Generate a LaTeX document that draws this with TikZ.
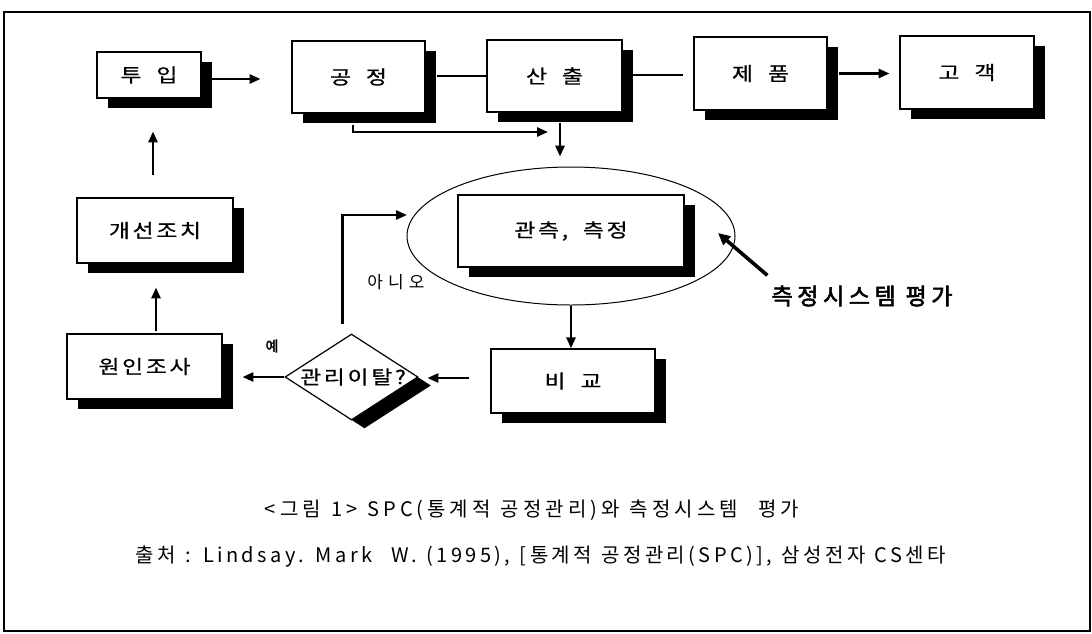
\documentclass[tikz,border=0pt]{standalone}
\usepackage{fontspec}
\setmainfont{Noto Sans CJK KR}
\newfontfamily\boxf[LetterSpace=12,WordSpace=1.9,FakeBold=0.6]{Noto Sans CJK KR}
\newfontfamily\capfa[LetterSpace=20,WordSpace=1.2]{Noto Sans CJK KR}
\newfontfamily\capfb[LetterSpace=17,WordSpace=1.2]{Noto Sans CJK KR}
\newfontfamily\lblf[LetterSpace=30]{Noto Sans CJK KR}
\newfontfamily\boldf[FakeBold=2.5,LetterSpace=20]{Noto Sans CJK KR}
\newcommand{\boxtxt}[1]{\scalebox{1.2}[1]{#1}}
\usetikzlibrary{arrows.meta,shapes.geometric,shadows}
\begin{document}
\begin{tikzpicture}[x=1pt,y=-1pt,
  sbox/.style={draw=black,line width=1.2pt,fill=white,rectangle,inner sep=0pt,
    drop shadow={shadow xshift=11pt,shadow yshift=-10pt,fill=black,opacity=1},
    font=\boxf\fontsize{19}{22}\selectfont},
  conn/.style={line width=2.6pt},
  arr/.style={line width=2.6pt,-{Triangle[length=11pt,width=9pt]}},
  capn/.style={inner sep=0pt},
  ]
\useasboundingbox (0,0) rectangle (1092,633);
\draw[line width=1.1pt] (4,12) rectangle (1090,631);
% ellipse
\node[draw,ellipse,line width=1pt,minimum width=328pt,minimum height=138pt,inner sep=0pt] (ell) at (571,236) {};
% boxes
\node[sbox,minimum width=104pt,minimum height=46pt] (tuip) at (149,75) {\boxtxt{투 입}};
\node[sbox,minimum width=133pt,minimum height=72pt] (gong) at (358.5,77) {\boxtxt{공 정}};
\node[sbox,minimum width=135pt,minimum height=72pt] (san) at (554.5,76) {\boxtxt{산 출}};
\node[sbox,minimum width=133pt,minimum height=73pt] (jep) at (760.5,73.5) {\boxtxt{제 품}};
\node[sbox,minimum width=134pt,minimum height=73pt] (gog) at (967,72.5) {\boxtxt{고 객}};
\node[sbox,minimum width=156pt,minimum height=65pt] (gae) at (155,230.5) {\boxtxt{개선조치}};
\node[sbox,minimum width=155pt,minimum height=65pt] (won) at (144.5,366.5) {\boxtxt{원인조사}};
\node[sbox,minimum width=226pt,minimum height=72pt] (gwan) at (571,231) {\boxtxt{관측, 측정}};
\node[sbox,minimum width=164pt,minimum height=64pt] (big) at (573,381) {\boxtxt{비 교}};
% diamond
\node[draw,diamond,line width=1.2pt,fill=white,inner sep=0pt,minimum width=133pt,minimum height=86pt,
  drop shadow={shadow xshift=13pt,shadow yshift=-8.5pt,fill=black,opacity=1}] (dia) at (351.5,377) {};
\node[font=\boxf\fontsize{19}{22}\selectfont,inner sep=0pt] (diat) at (353,377) {\boxtxt{관리이탈?}};
% connectors top row
\draw[arr] ([xshift=10pt,yshift=-4pt]tuip.east) -- ++(49,0);
\draw[conn] ([xshift=11pt,yshift=1pt]gong.east) -- ++(50,0);
\draw[conn] ([xshift=10pt,yshift=1pt]san.east) -- ++(50,0);
\draw[arr] ([xshift=11pt]jep.east) -- ++(51,0);
\coordinate (gtip) at (548,132);
\draw[arr] ([xshift=-5.5pt,yshift=-11pt]gong.south) |- (gtip);
\draw[arr] ([xshift=5.5pt,yshift=-10pt]san.south) -- ++(0,34);
% lower connectors
\draw[arr] (ell.south) -- (ell.south |- big.north);
\draw[arr] ([xshift=-21pt,yshift=3pt]big.west) -- ++(-42,0);
\draw[arr] (dia.west) -- ++(-42,0);
\coordinate (ltip) at (407,215);
\draw[arr] ([xshift=-9pt,yshift=9pt]dia.north) |- (ltip);
\draw[arr] ([xshift=-2pt,yshift=22pt]gae.north) -- ++(0,-44);
\draw[arr] ([xshift=11.5pt,yshift=2pt]won.north) -- ++(0,-44);
% labels
\node[font=\lblf\fontsize{17}{19}\selectfont,inner sep=0pt] (no) at (396,282) {아니오};
\node[font=\boldf\fontsize{14}{16}\selectfont,inner sep=0pt] (yes) at (272,346) {예};
\node[font=\boldf\fontsize{23}{26}\selectfont,inner sep=0pt] (eval) at (862,296) {측정시스템 평가};
\coordinate (etip) at (718,233);
\draw[line width=3.6pt,-{Triangle[length=12pt,width=11pt]}] ([xshift=-4pt,yshift=10pt]eval.north west) -- (etip);
% captions
\node[capn,font=\capfa\fontsize{20}{22}\selectfont] (cap1) at (532,510) {<그림 1> SPC(통계적 공정관리)와 측정시스템 \ 평가};
\node[capn,font=\capfb\fontsize{20}{22}\selectfont] (cap2) at (541,557) {출처 : Lindsay. Mark \ W. (1995), [통계적 공정관리(SPC)], 삼성전자 CS센타};
\end{tikzpicture}
\end{document}
